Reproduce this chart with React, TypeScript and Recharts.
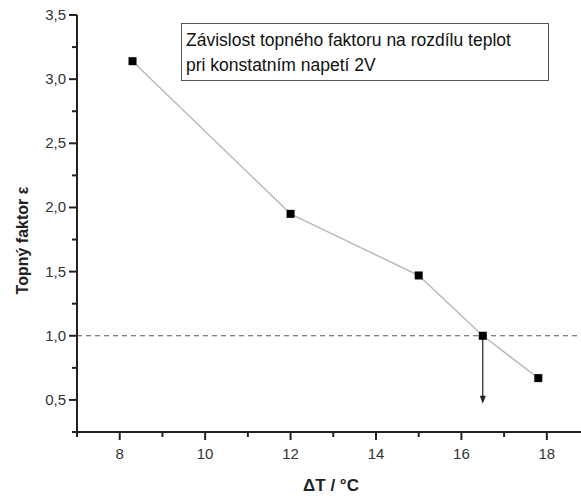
import { ComposedChart, Line, XAxis, YAxis, ReferenceLine, Label } from "recharts";

const deltaT = [8.3, 12, 15, 16.5, 17.8];
const factor = [3.14, 1.95, 1.47, 1.0, 0.67];

const xTicks = [7, 8, 9, 10, 11, 12, 13, 14, 15, 16, 17, 18];
const yTicks = [0.25, 0.5, 0.75, 1.0, 1.25, 1.5, 1.75, 2.0, 2.25, 2.5, 2.75, 3.0, 3.25, 3.5];

const limitValue = 1.0;
const arrowX = 16.5;
const arrowEnd = 0.47;

const title = ["Závislost topného faktoru na rozdílu teplot", "pri konstatním napetí 2V"];

const data = deltaT.map((x, i) => ({ x, y: factor[i] }));

const FONT = "'Liberation Sans', Arial, sans-serif";

const XTick = (props: any) => {
  const { x, y, payload } = props;
  const v = payload.value;
  const major = v % 2 === 0;
  return (
    <g>
      <line x1={x} y1={y} x2={x} y2={y + (major ? 8 : 5)} stroke="#222" strokeWidth={2} />
      {major && (
        <text x={x} y={y + 27} textAnchor="middle" fontSize={15} fill="#333" fontFamily={FONT}>
          {v}
        </text>
      )}
    </g>
  );
};

const YTick = (props: any) => {
  const { x, y, payload } = props;
  const v = payload.value;
  const major = Math.abs(v * 2 - Math.round(v * 2)) < 1e-6;
  return (
    <g>
      <line x1={x} y1={y} x2={x - (major ? 8 : 5)} y2={y} stroke="#222" strokeWidth={2} />
      {major && (
        <text x={x - 11} y={y + 5} textAnchor="end" fontSize={15} fill="#333" fontFamily={FONT}>
          {v.toFixed(1).replace(".", ",")}
        </text>
      )}
    </g>
  );
};

const SquareDot = (props: any) => {
  const { cx, cy } = props;
  if (cx == null || cy == null) return null;
  return <rect x={cx - 4} y={cy - 4} width={8} height={8} fill="#000" />;
};

const Arrow = (props: any) => {
  const { x1, y1, x2, y2 } = props;
  return (
    <g>
      <line x1={x1} y1={y1} x2={x2} y2={y2 - 6} stroke="#222" strokeWidth={1.2} />
      <polygon points={`${x2 - 3},${y2 - 8} ${x2 + 3},${y2 - 8} ${x2},${y2}`} fill="#222" />
    </g>
  );
};

export default function App() {
  return (
    <div style={{ position: "absolute", left: 0, top: 0, width: 581, height: 499, background: "#fff" }}>
      <ComposedChart
        width={581}
        height={499}
        data={data}
        margin={{ top: 15, right: 0, bottom: 0, left: 0 }}
      >
        <XAxis
          type="number"
          dataKey="x"
          domain={[7, 18.8]}
          allowDataOverflow
          ticks={xTicks}
          interval={0}
          tickSize={0}
          tickMargin={0}
          tickLine={false}
          tick={<XTick />}
          axisLine={{ stroke: "#222", strokeWidth: 2 }}
          height={67}
        >
          <Label
            content={(p: any) => {
              const vb = p.viewBox;
              return (
                <text
                  x={vb.x + vb.width / 2 + 2}
                  y={vb.y + 59}
                  textAnchor="middle"
                  fontSize={17}
                  fontWeight="bold"
                  fill="#222"
                  fontFamily={FONT}
                >
                  ΔT / °C
                </text>
              );
            }}
          />
        </XAxis>
        <YAxis
          type="number"
          domain={[0.25, 3.5]}
          allowDataOverflow
          ticks={yTicks}
          interval={0}
          tickSize={0}
          tickMargin={0}
          tickLine={false}
          tick={<YTick />}
          axisLine={{ stroke: "#222", strokeWidth: 2 }}
          width={77}
        >
          <Label
            content={(p: any) => {
              const vb = p.viewBox;
              const cx = 22;
              const cy = vb.y + vb.height / 2 + 17;
              return (
                <text
                  x={cx}
                  y={cy}
                  transform={`rotate(-90 ${cx} ${cy})`}
                  textAnchor="middle"
                  dominantBaseline="central"
                  fontSize={16}
                  fontWeight="bold"
                  fill="#222"
                  fontFamily={FONT}
                >
                  Topný faktor ε
                </text>
              );
            }}
          />
        </YAxis>
        <ReferenceLine y={limitValue} stroke="#555" strokeDasharray="5 4" strokeWidth={1.2} />
        <ReferenceLine
          segment={[
            { x: arrowX, y: limitValue },
            { x: arrowX, y: arrowEnd },
          ]}
          shape={<Arrow />}
        />
        <Line
          dataKey="y"
          stroke="#bbb"
          strokeWidth={1.5}
          dot={<SquareDot />}
          activeDot={false}
          isAnimationActive={false}
        />
      </ComposedChart>
      <div
        style={{
          position: "absolute",
          left: 181,
          top: 23,
          width: 368,
          height: 58,
          border: "1px solid #555",
          boxSizing: "border-box",
          padding: "4px 0 0 4px",
          fontFamily: FONT,
          fontSize: 17.5,
          lineHeight: "25px",
          color: "#111",
          background: "#fff",
        }}
      >
        <div>{title[0]}</div>
        <div>{title[1]}</div>
      </div>
    </div>
  );
}
